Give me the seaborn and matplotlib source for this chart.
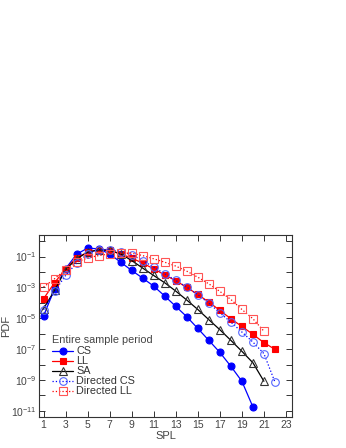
import numpy as np
import pandas as pd
import matplotlib
matplotlib.use('Agg')
import matplotlib.pyplot as plt
import seaborn as sns

sns.set_style("ticks")
plt.rcParams['font.family'] = ['Liberation Sans', 'DejaVu Sans']
plt.rcParams['font.size'] = 7
plt.rcParams['mathtext.default'] = 'regular'

# SPL values (x) and log10 PDF
spl_cs = list(range(1, 21))
log_cs = [-4.86, -3.09, -1.80, -0.85, -0.46, -0.50, -0.83, -1.37, -1.90, -2.40,
          -2.92, -3.56, -4.23, -4.90, -5.66, -6.43, -7.21, -8.11, -9.08, -10.74]

spl_ll = list(range(1, 23))
log_ll = [-3.74, -2.70, -1.80, -1.09, -0.72, -0.55, -0.61, -0.83, -1.10, -1.43,
          -1.80, -2.19, -2.57, -3.00, -3.46, -3.95, -4.49, -5.03, -5.53, -6.04,
          -6.58, -7.01]

spl_sa = list(range(1, 22))
log_sa = [-4.38, -3.20, -1.86, -1.15, -0.72, -0.57, -0.60, -0.83, -1.26, -1.75,
          -2.23, -2.70, -3.24, -3.82, -4.43, -5.09, -5.74, -6.43, -7.14, -7.88,
          -9.08]

spl_dcs = list(range(1, 23))
log_dcs = [-4.45, -3.26, -2.23, -1.43, -0.83, -0.55, -0.55, -0.68, -0.89, -1.26,
           -1.69, -2.12, -2.55, -2.98, -3.48, -4.02, -4.64, -5.25, -5.89, -6.54,
           -7.29, -9.13]

spl_dll = list(range(1, 22))
log_dll = [-2.98, -2.44, -1.86, -1.37, -1.09, -0.94, -0.83, -0.78, -0.78, -0.94,
           -1.15, -1.37, -1.62, -1.95, -2.34, -2.77, -3.26, -3.78, -4.43, -5.03,
           -5.84]

fig = plt.figure(figsize=(3.46, 4.48), dpi=100)
ax = fig.add_axes([0.113, 0.069, 0.731, 0.406])

blue = '#0000ff'
red = '#ff0000'

series = [
    ('CS', spl_cs, log_cs, dict(color=blue, marker='o', linestyle='-', markersize=5,
                                markerfacecolor=blue, markeredgecolor=blue)),
    ('LL', spl_ll, log_ll, dict(color=red, marker='s', linestyle='-', markersize=5,
                                markerfacecolor=red, markeredgecolor=red)),
    ('SA', spl_sa, log_sa, dict(color='black', marker='^', linestyle='-', markersize=5.5,
                                markerfacecolor='none', markeredgecolor='#333333')),
    ('Directed CS', spl_dcs, log_dcs, dict(color=blue, marker='o', linestyle=':', markersize=5.5,
                                           markerfacecolor='none', markeredgecolor='#5566ff')),
    ('Directed LL', spl_dll, log_dll, dict(color=red, marker='s', linestyle=':', markersize=5.5,
                                           markerfacecolor='none', markeredgecolor='#ff5555')),
]

for name, xs, ys, kw in series:
    df = pd.DataFrame({'SPL': xs, 'PDF': 10.0 ** np.array(ys)})
    sns.lineplot(data=df, x='SPL', y='PDF', ax=ax, label=name, linewidth=0.9,
                 markeredgewidth=0.8, **kw)

ax.set_yscale('log')
ax.set_xlim(0.6, 23.55)
ax.set_ylim(10 ** -11.4, 10 ** 0.38)
ax.set_xticks(range(1, 24, 2))
ax.set_yticks([10.0 ** e for e in range(-11, 0, 2)])
ax.set_yticklabels(['$10^{%d}$' % e for e in range(-11, 0, 2)])
ax.set_yticks([10.0 ** e for e in range(-10, 1, 2)], minor=True)
ax.tick_params(which='both', direction='in', top=True, right=True, length=4,
               width=0.7, colors='#333333', labelcolor='#444444', labelsize=7.5, pad=2)
ax.tick_params(which='minor', labelleft=False)
ax.set_xticks(range(2, 24, 2), minor=True)
ax.tick_params(axis='x', which='minor', length=0)
for s in ax.spines.values():
    s.set_linewidth(0.8)
    s.set_color('#333333')
ax.set_xlabel('SPL', color='#444444', fontsize=8, labelpad=1)
ax.set_ylabel('PDF', color='#444444', fontsize=8)
ax.yaxis.set_label_coords(-0.11, 0.5)

leg = ax.legend(title='Entire sample period', loc='lower left', frameon=False,
                fontsize=7.8, title_fontsize=7.8, handlelength=1.9, handletextpad=0.3,
                labelspacing=0.0, borderaxespad=0.0, bbox_to_anchor=(0.035, 0.09))
leg._legend_box.align = 'left'
leg._legend_box.sep = 1
for t in leg.get_texts():
    t.set_color('#333333')
leg.get_title().set_color('#444444')

fig.savefig('out.png', dpi=100)
